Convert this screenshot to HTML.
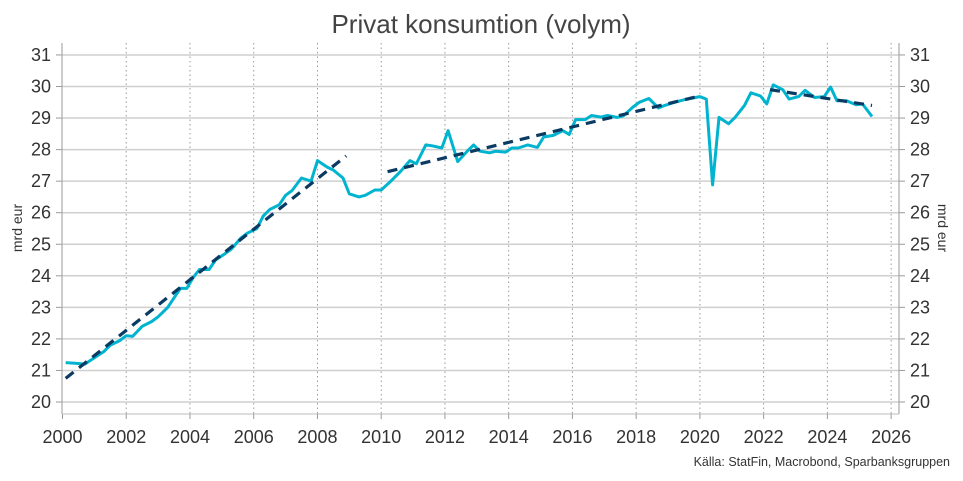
<!DOCTYPE html>
<html><head><meta charset="utf-8"><style>
body{margin:0;background:#fff}
svg{display:block;font-family:"Liberation Sans",sans-serif}
</style></head><body>
<svg width="963" height="481" xmlns="http://www.w3.org/2000/svg">
<text x="481" y="33" text-anchor="middle" font-size="26" fill="#444">Privat konsumtion (volym)</text>
<g id="grid"></g>
<g id="lbl" font-size="18" fill="#333"></g>
<text transform="translate(22,228) rotate(-90)" text-anchor="middle" font-size="14" fill="#333">mrd eur</text>
<text transform="translate(938,228) rotate(90)" text-anchor="middle" font-size="14" fill="#333">mrd eur</text>
<text x="950" y="466" text-anchor="end" font-size="12.5" fill="#333">Källa: StatFin, Macrobond, Sparbanksgruppen</text>
<g id="series"></g>
</svg>
<script>
const NS="http://www.w3.org/2000/svg";
const X=t=>62.5+(t-2000)*31.87, Y=v=>402-(v-20)*31.55;
function el(p,n,a,txt){const e=document.createElementNS(NS,n);for(const k in a)e.setAttribute(k,a[k]);if(txt!==undefined)e.textContent=txt;document.getElementById(p).appendChild(e);}
for(let v=20;v<=31;v++){const y=Y(v);
 el("grid","line",{x1:62,x2:899,y1:y,y2:y,stroke:"#cfcfcf","stroke-width":1.5});
 el("grid","line",{x1:56,x2:62,y1:y,y2:y,stroke:"#999"});
 el("grid","line",{x1:899,x2:905,y1:y,y2:y,stroke:"#999"});
 el("lbl","text",{x:51,y:y+6,"text-anchor":"end"},v);
 el("lbl","text",{x:910,y:y+6},v);}
for(let t=2000;t<=2026;t+=2){const x=X(t);
 if(t>2000)el("grid","line",{x1:x,x2:x,y1:43,y2:414,stroke:"#999","stroke-dasharray":"1.5 3"});
 el("grid","line",{x1:x,x2:x,y1:414,y2:419,stroke:"#999"});
 el("lbl","text",{x:x,y:443,"text-anchor":"middle"},t);}
el("grid","line",{x1:62,x2:62,y1:43,y2:414,stroke:"#aaa","stroke-width":1.2});
el("grid","line",{x1:899,x2:899,y1:43,y2:414,stroke:"#aaa","stroke-width":1.2});
el("grid","line",{x1:62,x2:899,y1:414,y2:414,stroke:"#bbb","stroke-width":1});
const d=[2000.1,21.25,2000.4,21.23,2000.7,21.2,2001,21.4,2001.3,21.6,2001.5,21.8,2001.8,21.95,2002,22.1,2002.2,22.08,2002.5,22.4,2002.8,22.55,2003,22.7,2003.3,23,2003.5,23.3,2003.7,23.6,2003.9,23.6,2004.1,23.95,2004.3,24.2,2004.6,24.2,2004.8,24.5,2005.1,24.7,2005.3,24.85,2005.6,25.2,2005.8,25.35,2006.1,25.5,2006.3,25.9,2006.5,26.1,2006.8,26.25,2007,26.55,2007.2,26.7,2007.5,27.1,2007.8,27,2008,27.65,2008.3,27.45,2008.5,27.35,2008.8,27.1,2009,26.6,2009.3,26.5,2009.5,26.55,2009.8,26.72,2010,26.72,2010.3,27,2010.6,27.3,2010.9,27.65,2011.1,27.55,2011.4,28.15,2011.6,28.12,2011.9,28.05,2012.1,28.6,2012.4,27.62,2012.7,27.95,2012.9,28.15,2013.1,27.95,2013.4,27.9,2013.6,27.95,2013.9,27.92,2014.1,28.05,2014.3,28.05,2014.6,28.15,2014.9,28.07,2015.1,28.4,2015.4,28.45,2015.7,28.6,2015.9,28.48,2016.1,28.95,2016.4,28.95,2016.6,29.08,2016.9,29.03,2017.1,29.08,2017.4,29.02,2017.6,29.07,2017.9,29.35,2018.1,29.5,2018.4,29.62,2018.7,29.32,2018.9,29.4,2019.2,29.5,2019.5,29.58,2019.7,29.62,2020,29.68,2020.2,29.6,2020.4,26.88,2020.6,29.02,2020.9,28.82,2021.1,29.02,2021.4,29.4,2021.6,29.8,2021.9,29.7,2022.1,29.45,2022.3,30.05,2022.6,29.9,2022.8,29.6,2023.1,29.68,2023.3,29.88,2023.6,29.65,2023.9,29.68,2024.1,29.98,2024.3,29.55,2024.6,29.55,2024.9,29.42,2025.1,29.45,2025.4,29.05];
let p="";for(let i=0;i<d.length;i+=2)p+=(i?"L":"M")+X(d[i]).toFixed(1)+","+Y(d[i+1]).toFixed(1);
el("series","path",{d:p,fill:"none",stroke:"#00b4d0","stroke-width":3,"stroke-linejoin":"round"});
[[2000.1,20.75,2008.9,27.8],[2010.2,27.3,2020,29.7],[2022.2,29.9,2025.4,29.4]].forEach(s=>
 el("series","line",{x1:X(s[0]),y1:Y(s[1]),x2:X(s[2]),y2:Y(s[3]),stroke:"#0b3a63","stroke-width":3.2,"stroke-dasharray":"10 7"}));
</script>
</body></html>
